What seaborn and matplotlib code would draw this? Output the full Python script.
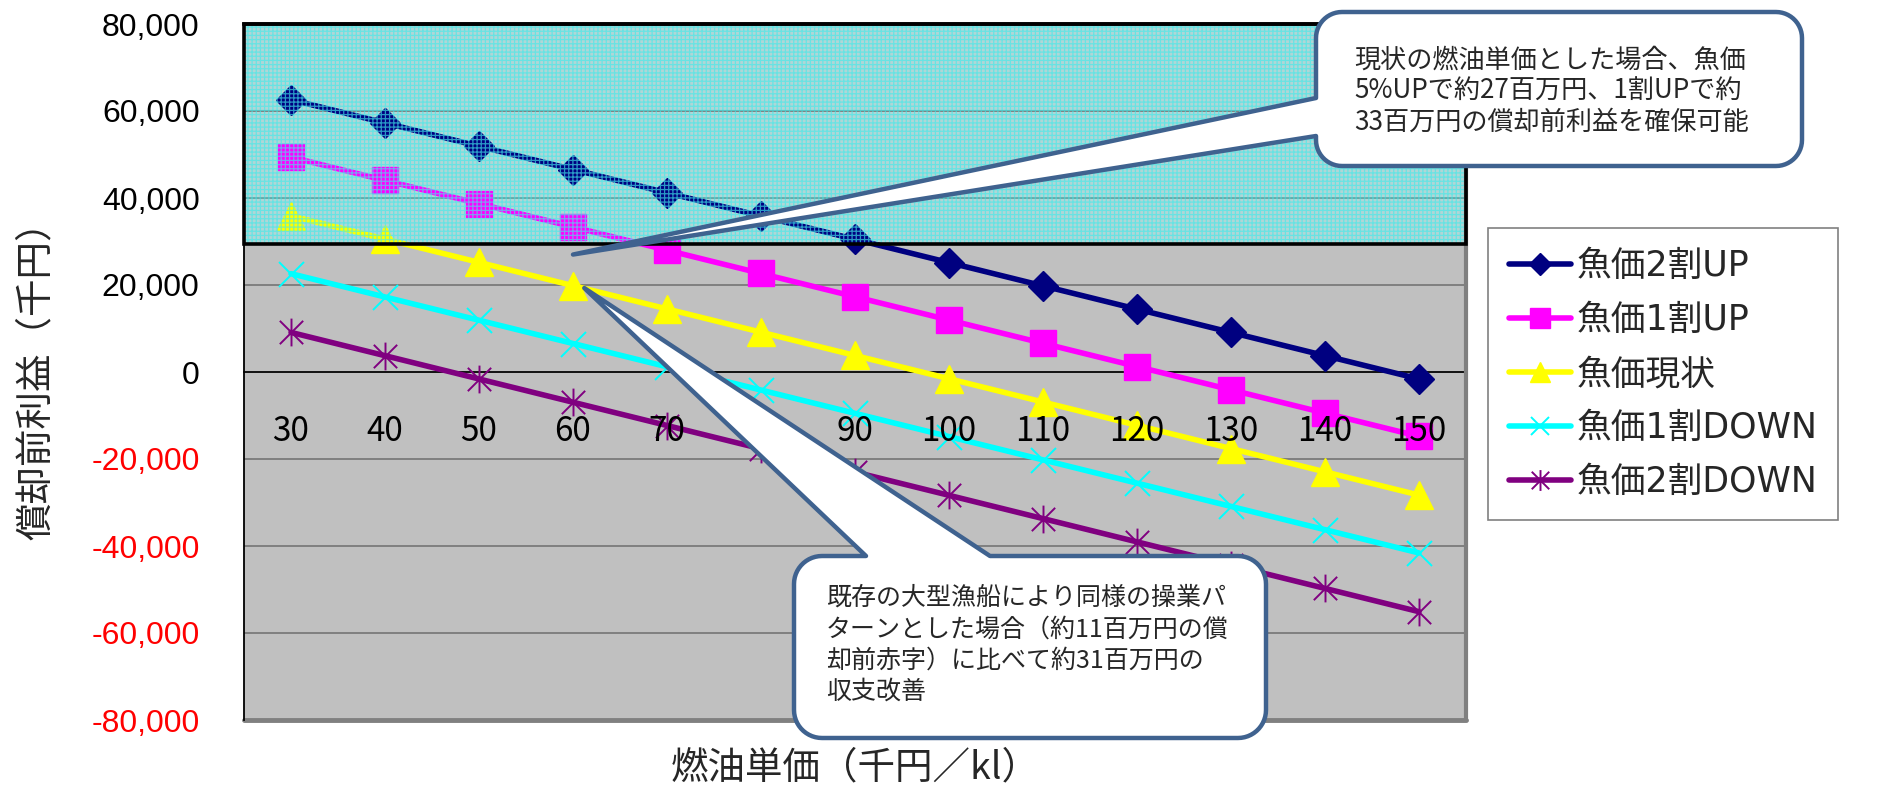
import numpy as np
import matplotlib
matplotlib.use("Agg")
import matplotlib.pyplot as plt
from matplotlib.patches import Rectangle, Polygon
from matplotlib.path import Path
import seaborn as sns

# ---- data -------------------------------------------------------------
fuel_price = [30, 40, 50, 60, 70, 80, 90, 100, 110, 120, 130, 140, 150]
fuel_labels = ["30", "40", "50", "60", "70", "80", "90", "100", "110",
               "120", "130", "140", "150"]

series_names = ["魚価2割UP", "魚価1割UP", "魚価現状", "魚価1割DOWN", "魚価2割DOWN"]
profit_up20 = [62600, 57250, 51900, 46550, 41200, 35850, 30500, 25150,
               19800, 14450, 9100, 3750, -1600]
profit_up10 = [49400, 44050, 38700, 33350, 28000, 22650, 17300, 11950,
               6600, 1250, -4100, -9450, -14800]
profit_now = [35900, 30550, 25200, 19850, 14500, 9150, 3800, -1550,
              -6900, -12250, -17600, -22950, -28300]
profit_down10 = [22600, 17250, 11900, 6550, 1200, -4150, -9500, -14850,
                 -20200, -25550, -30900, -36250, -41600]
profit_down20 = [9100, 3750, -1600, -6950, -12300, -17650, -23000, -28350,
                 -33700, -39050, -44400, -49750, -55100]
series_values = [profit_up20, profit_up10, profit_now, profit_down10, profit_down20]

ytick_values = [-80000, -60000, -40000, -20000, 0, 20000, 40000, 60000, 80000]
secure_level = 29500          # lower edge of the shaded "profit secured" band

note_top = ["現状の燃油単価とした場合、魚価",
            "5%UPで約27百万円、1割UPで約",
            "33百万円の償却前利益を確保可能"]
note_bottom = ["既存の大型漁船により同様の操業パ",
               "ターンとした場合（約11百万円の償",
               "却前赤字）に比べて約31百万円の",
               "収支改善"]

# ---- style ------------------------------------------------------------
sns.set_theme(style="white")
plt.rcParams["font.family"] = ["Noto Sans CJK JP", "DejaVu Sans"]
plt.rcParams["hatch.linewidth"] = 0.9
NUM_FONT = ["Liberation Sans", "DejaVu Sans"]
LEGEND_FONT = ["DejaVu Sans", "Noto Sans CJK JP"]

W, H = 1881, 795
fig = plt.figure(figsize=(W / 100, H / 100), dpi=100)
fig.patch.set_facecolor("white")
ax = fig.add_axes([244 / W, 1 - 720 / H, 1222 / W, 696 / H])
ax.set_facecolor("#C0C0C0")

# asterisk marker: vertical stroke plus a cross
star = Path([(0, -0.5), (0, 0.5), (-0.42, -0.42), (0.42, 0.42),
             (-0.42, 0.42), (0.42, -0.42)],
            [Path.MOVETO, Path.LINETO] * 3)

styles = {
    "魚価2割UP": dict(color="#000080", marker="D", ms=15, mew=1.0),
    "魚価1割UP": dict(color="#FF00FF", marker="s", ms=19, mew=1.0),
    "魚価現状": dict(color="#FFFF00", marker="^", ms=20, mew=1.0),
    "魚価1割DOWN": dict(color="#00FFFF", marker="x", ms=18, mew=1.4),
    "魚価2割DOWN": dict(color="#800080", marker=star, ms=20, mew=1.4),
}

for name, vals in zip(series_names, series_values):
    st = styles[name]
    sns.lineplot(x=fuel_price, y=vals, ax=ax, color=st["color"], lw=4.0,
                 marker=st["marker"], markersize=st["ms"],
                 markerfacecolor=st["color"], markeredgecolor=st["color"],
                 markeredgewidth=st["mew"], label=name, zorder=2, sort=False)

ax.set_xlim(25, 155)
ax.set_ylim(-80000, 80000)

# shaded band where the pre-depreciation profit is secured
band_h = 80000 - secure_level
ax.add_patch(Rectangle((25, secure_level), 130, band_h, facecolor="#B0D6D6",
                       edgecolor="none", zorder=0.3))
ax.add_patch(Rectangle((25, secure_level), 130, band_h, fill=False,
                       hatch="++++", edgecolor=(0.25, 0.92, 0.92, 0.65),
                       lw=0, zorder=2.4))
ax.add_patch(Rectangle((25, secure_level), 130, band_h, fill=False,
                       edgecolor="black", lw=2.6, zorder=2.6, clip_on=False))

# grid and axes
ax.set_yticks(ytick_values)
ax.set_yticklabels([f"{v:,}" for v in ytick_values])
ax.yaxis.grid(True, color="#808080", lw=1.4)
ax.set_axisbelow(True)
ax.xaxis.set_zorder(5)

ax.set_xticks(fuel_price)
ax.set_xticklabels(fuel_labels)
ax.set_xticks([35, 45, 55, 65, 75, 85, 95, 105, 115, 125, 135, 145, 155], minor=True)
ax.tick_params(axis="x", which="major", length=0, pad=30, labelsize=24,
               labelcolor="black")
ax.tick_params(axis="x", which="minor", direction="in", length=7, width=1.0,
               color="black")
ax.tick_params(axis="y", which="major", direction="in", length=6, width=1.2,
               color="#808080", pad=32, labelsize=23, left=True)
for lab in ax.get_xticklabels() + ax.get_yticklabels():
    lab.set_fontfamily(NUM_FONT)
for v, lab in zip(ytick_values, ax.get_yticklabels()):
    lab.set_color("#FF0000" if v < 0 else "black")

ax.spines["bottom"].set_position(("data", 0))
ax.spines["bottom"].set_color("black")
ax.spines["bottom"].set_linewidth(1.2)
ax.spines["bottom"].set_zorder(1.5)
ax.spines["left"].set_color("black")
ax.spines["left"].set_linewidth(1.3)
ax.spines["top"].set_color("black")
ax.spines["top"].set_linewidth(2.6)
ax.spines["right"].set_color("#808080")
ax.spines["right"].set_linewidth(3.0)
ax.axhline(-80000, color="#808080", lw=3.5, zorder=1.6, clip_on=False)

# axis titles
fig.text(36 / W, 1 - 371 / H, "償却前利益（千円）", rotation=90, fontsize=27,
         ha="center", va="center")
fig.text(855 / W, 1 - 768 / H, "燃油単価（千円／kl）", fontsize=27,
         ha="center", va="center")

# legend
leg = ax.legend(loc="upper left", bbox_to_anchor=(1488 / W, 1 - 228 / H),
                bbox_transform=fig.transFigure, frameon=True, fancybox=False,
                edgecolor="#808080", framealpha=1,
                prop={"family": LEGEND_FONT, "size": 25},
                handlelength=1.8, handletextpad=0.15, labelspacing=0.58,
                borderpad=0.6, borderaxespad=0, markerscale=0.75)
leg.get_frame().set_linewidth(1.2)
leg.set_zorder(10)


# ---- speech-bubble notes ----------------------------------------------
def bubble(x0, y0, x1, y1, r, side, base, tip, n=14):
    pts = []

    def arc(cx, cy, a0, a1):
        for t in np.radians(np.linspace(a0, a1, n)):
            pts.append((cx + r * np.cos(t), cy + r * np.sin(t)))

    if side == "top":
        pts += [(base[0], y0), tip, (base[1], y0)]
    arc(x1 - r, y0 + r, -90, 0)
    arc(x1 - r, y1 - r, 0, 90)
    arc(x0 + r, y1 - r, 90, 180)
    if side == "left":
        pts += [(x0, base[0]), tip, (x0, base[1])]
    arc(x0 + r, y0 + r, 180, 270)
    return [(px / W, 1 - py / H) for px, py in pts]


def data_to_px(x, y):
    dx, dy = ax.transData.transform((x, y))
    return (dx, H - dy)


edge = "#3F628F"
tip1 = data_to_px(60, 27000)
fig.add_artist(Polygon(bubble(1316, 12, 1802, 166, 26, "left", (136, 98), tip1),
                       closed=True, transform=fig.transFigure,
                       facecolor="white", edgecolor=edge, lw=3.2,
                       joinstyle="round", zorder=20))
for i, line in enumerate(note_top):
    fig.text(1354 / W, 1 - (60 + 31 * i) / H, line, fontsize=18.8,
             ha="left", va="center", zorder=21)

tip2 = data_to_px(61.2, 19300)
fig.add_artist(Polygon(bubble(794, 556, 1266, 738, 28, "top", (866, 990), tip2),
                       closed=True, transform=fig.transFigure,
                       facecolor="white", edgecolor=edge, lw=3.2,
                       joinstyle="round", zorder=20))
for i, line in enumerate(note_bottom):
    fig.text(826 / W, 1 - (598 + 31.3 * i) / H, line, fontsize=18,
             ha="left", va="center", zorder=21)

fig.savefig("out.png", dpi=100)
